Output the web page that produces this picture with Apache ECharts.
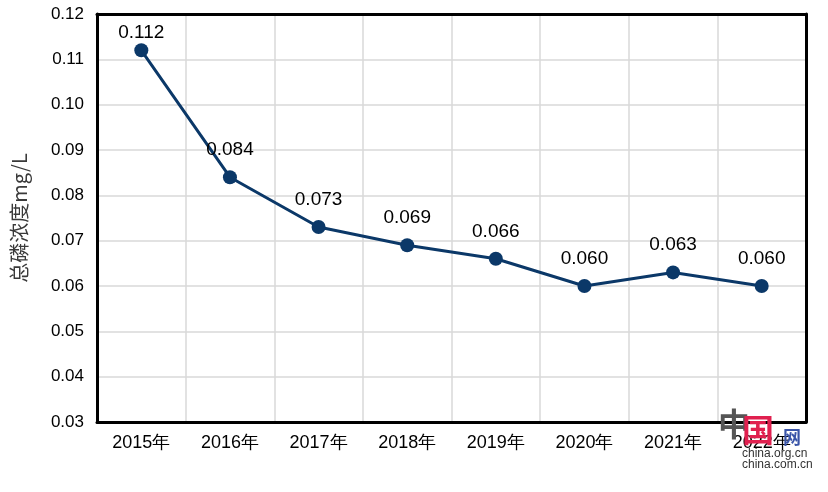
<!DOCTYPE html>
<html><head><meta charset="utf-8">
<script src="https://cdn.jsdelivr.net/npm/echarts@6/dist/echarts.min.js"></script>
<style>html,body{margin:0;padding:0;background:#fff}#c{width:828px;height:492px}</style>
</head><body><div id="c"></div>
<script>
const categories = ['2015年','2016年','2017年','2018年','2019年','2020年','2021年','2022年'];
const values = [0.112, 0.084, 0.073, 0.069, 0.066, 0.060, 0.063, 0.060];
const yMin = 0.03, yMax = 0.12, yStep = 0.01;
const yAxisName = '总磷浓度mg/L';

const frameLine = {show:true, lineStyle:{color:'#000', width:3}};
const chart = echarts.init(document.getElementById('c'), null, {renderer:'canvas'});
chart.setOption({
  animation:false,
  backgroundColor:'#fff',
  grid:{left:97, right:22, top:14, bottom:70, outerBoundsMode:'none', containLabel:false},
  xAxis:[{
    type:'category', data:categories, boundaryGap:true, position:'bottom',
    axisLine:frameLine, axisTick:{show:false},
    axisLabel:{color:'#000', fontSize:18, fontFamily:'Liberation Sans, Arial, sans-serif', margin:12},
    splitLine:{show:true, lineStyle:{color:'#d9d9d9', width:1.5}}
  },{
    type:'category', data:categories, boundaryGap:true, position:'top',
    axisLine:frameLine, axisTick:{show:false}, axisLabel:{show:false}, splitLine:{show:false}
  }],
  yAxis:[{
    type:'value', min:yMin, max:yMax, interval:yStep, position:'left',
    name:yAxisName, nameLocation:'middle', nameGap:68, nameRotate:90,
    nameTextStyle:{color:'#3a3a3a', fontSize:20, fontFamily:'Noto Sans CJK SC, sans-serif'},
    axisLine:frameLine, axisTick:{show:false},
    axisLabel:{color:'#000', fontSize:17, fontFamily:'Liberation Sans, Arial, sans-serif', margin:13,
      formatter:v=>v.toFixed(2)},
    splitLine:{show:true, lineStyle:{color:'#d9d9d9', width:1.5}}
  },{
    type:'value', min:yMin, max:yMax, interval:yStep, position:'right',
    axisLine:frameLine, axisTick:{show:false}, axisLabel:{show:false}, splitLine:{show:false}
  }],
  series:[{
    type:'line', xAxisIndex:0, yAxisIndex:0, z:10,
    data: values.map((v,i)=> i===0 ? {value:v, label:{distance:1}} : v),
    symbol:'circle', symbolSize:14,
    lineStyle:{color:'#0b3868', width:3},
    itemStyle:{color:'#0b3868'},
    label:{show:true, position:'top', distance:11, color:'#000', fontSize:19,
      fontFamily:'Liberation Sans, Arial, sans-serif', formatter:p=>p.value.toFixed(3)}
  }],
  graphic:[
    {type:'text', left:718, top:408, z:100, style:{text:'中', fill:'#555', font:'bold 32px Noto Sans CJK SC'}},
    {type:'text', left:742, top:414, z:100, style:{text:'国', fill:'#e0204f', font:'bold 32px Noto Sans CJK SC'}},
    {type:'text', left:783, top:428, z:100, style:{text:'网', fill:'#3a55a8', font:'bold 18px Noto Sans CJK SC'}},
    {type:'text', left:742, top:448, z:100, style:{text:'china.org.cn', fill:'#333', font:'12px Liberation Sans'}},
    {type:'text', left:742, top:459, z:100, style:{text:'china.com.cn', fill:'#333', font:'12px Liberation Sans'}}
  ]
});
</script></body></html>
